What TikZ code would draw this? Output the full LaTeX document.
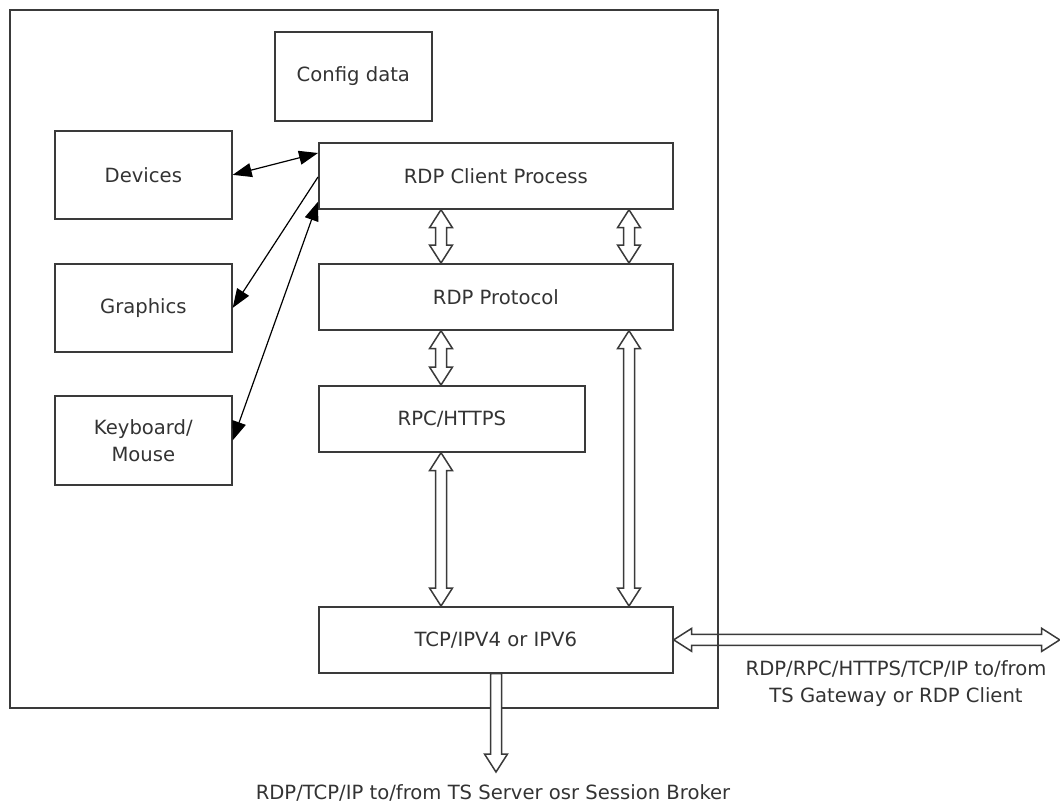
\documentclass[tikz,border=0pt]{standalone}
\usepackage{fontspec}
\setmainfont{DejaVu Sans}
\usetikzlibrary{arrows.meta,calc}
\definecolor{ln}{HTML}{3A3A3A}
\definecolor{tx}{HTML}{333333}
\newcommand\hollowtwo[2]{%
  \filldraw[hol] let \p1=(#1), \p2=(#2), \n1={veclen(\x2-\x1,\y2-\y1)}, \n2={atan2(\y2-\y1,\x2-\x1)} in
    (\p1) -- ++($(\n2:18pt)+(\n2+90:11.5pt)$) -- ++(\n2-90:6pt) -- ++(\n2:\n1-36pt)
    -- ++(\n2+90:6pt) -- (\p2) -- ++($(\n2+180:18pt)+(\n2-90:11.5pt)$) -- ++(\n2+90:6pt)
    -- ++(\n2+180:\n1-36pt) -- ++(\n2-90:6pt) -- cycle;}
\newcommand\hollowone[2]{%
  \filldraw[hol] let \p1=(#1), \p2=(#2), \n1={veclen(\x2-\x1,\y2-\y1)}, \n2={atan2(\y2-\y1,\x2-\x1)} in
    ($(\p1)+(\n2+90:5.5pt)$) -- ++(\n2:\n1-18pt) -- ++(\n2+90:6pt) -- (\p2)
    -- ++($(\n2+180:18pt)+(\n2-90:11.5pt)$) -- ++(\n2+90:6pt) -- ++(\n2+180:\n1-18pt) -- cycle;}
\begin{document}
\begin{tikzpicture}[x=1pt,y=-1pt,
  every node/.style={font=\fontsize{19.6}{27}\selectfont, text=tx},
  box/.style={draw=ln, line width=1.7pt, rectangle, anchor=north west, inner sep=0pt, align=center},
  hol/.style={draw=ln, line width=1.5pt, fill=white, line join=miter},
  thin/.style={draw=black, line width=1.2pt, {Triangle[length=19pt,width=14pt]}-{Triangle[length=19pt,width=14pt]}},
  thinone/.style={draw=black, line width=1.2pt, -{Triangle[length=19pt,width=14pt]}}]
\useasboundingbox (0,0) rectangle (1060,804);
\node[box, minimum width=708pt, minimum height=698pt] (frame) at (9,9) {};
\node[box, minimum width=157pt, minimum height=89pt] (cfg) at (274,31) {Config data};
\node[box, minimum width=177pt, minimum height=88pt] (dev) at (54,130) {Devices};
\node[box, minimum width=177pt, minimum height=88pt] (gfx) at (54,263) {Graphics};
\node[box, minimum width=177pt, minimum height=89pt] (kbd) at (54,395) {Keyboard/\\Mouse};
\node[box, minimum width=354pt, minimum height=66pt] (client) at (318,142) {RDP Client Process};
\node[box, minimum width=354pt, minimum height=66pt] (proto) at (318,263) {RDP Protocol};
\node[box, minimum width=266pt, minimum height=66pt] (rpc) at (318,385) {RPC/HTTPS};
\node[box, minimum width=354pt, minimum height=66pt] (tcp) at (318,606) {TCP/IPV4 or IPV6};
\coordinate (ext) at ($(tcp.east)+(386,0)$);
\coordinate (down) at (496,772);
\node[anchor=base] (lbldown) at (493,799) {RDP/TCP/IP to/from TS Server osr Session Broker};
\node[align=center] (lblext) at (896,684) {RDP/RPC/HTTPS/TCP/IP to/from\\TS Gateway or RDP Client};
% black arrows
\draw[thin] (dev.east) -- ([yshift=-11pt]client.north west);
\draw[thinone] ([yshift=-35pt]client.north west) -- (gfx.east);
\draw[thin] (kbd.east) -- ([yshift=8pt]client.south west);
% hollow arrows
\hollowtwo{[xshift=123pt]client.south west}{[xshift=123pt]proto.north west}
\hollowtwo{[xshift=311pt]client.south west}{[xshift=311pt]proto.north west}
\hollowtwo{[xshift=123pt]proto.south west}{[xshift=123pt]rpc.north west}
\hollowtwo{[xshift=123pt]rpc.south west}{[xshift=123pt]tcp.north west}
\hollowtwo{[xshift=311pt]proto.south west}{[xshift=311pt]tcp.north west}
\hollowone{[xshift=178pt]tcp.south west}{down}
\draw[hol, fill=none] let \p1=(tcp.east), \p2=(ext), \n1={veclen(\x2-\x1,\y2-\y1)}, \n2={atan2(\y2-\y1,\x2-\x1)} in
    (\p1) -- ++($(\n2:18pt)+(\n2+90:11.5pt)$) -- ++(\n2-90:6pt) -- ++(\n2:\n1-36pt)
    -- ++(\n2+90:6pt) -- (\p2) -- ++($(\n2+180:18pt)+(\n2-90:11.5pt)$) -- ++(\n2+90:6pt)
    -- ++(\n2+180:\n1-36pt) -- ++(\n2-90:6pt) -- cycle;
\end{tikzpicture}
\end{document}
